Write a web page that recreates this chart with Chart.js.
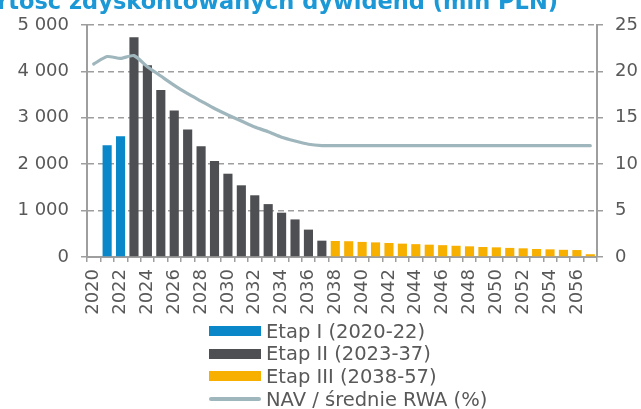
<!DOCTYPE html>
<html lang="pl">
<head>
    <meta charset="UTF-8">
    <title>Wartość zdyskontowanych dywidend</title>
    <script src="https://cdn.jsdelivr.net/npm/chart.js"></script>
    <style>
        body { margin: 0; background: #fff; overflow: hidden; }
        #wrap { position: relative; width: 641px; height: 409px; overflow: hidden; font-family: "DejaVu Sans", Verdana, sans-serif; }
        #title { position: absolute; right: 83px; top: -10px; font-size: 22.5px; line-height: 22px; font-weight: bold; color: #1b98d5; white-space: nowrap; }
        #legend { position: absolute; left: 209px; top: 320px; }
        .item { height: 22.6px; display: flex; align-items: center; font-size: 19.5px; color: #595959; }
        .sw { width: 52px; margin-right: 5px; }
    </style>
</head>
<body>
<div id="wrap">
    <canvas id="dywidendy" width="641" height="409"></canvas>
    <div id="title">Wartość zdyskontowanych dywidend (mln PLN)</div>
    <div id="legend"></div>
</div>

<script>
    const years = [2020, 2021, 2022, 2023, 2024, 2025, 2026, 2027, 2028, 2029,
        2030, 2031, 2032, 2033, 2034, 2035, 2036, 2037, 2038, 2039,
        2040, 2041, 2042, 2043, 2044, 2045, 2046, 2047, 2048, 2049,
        2050, 2051, 2052, 2053, 2054, 2055, 2056, 2057];

    // mln PLN, etapy
    const etap1 = [null, 2410, 2600];
    const etap2 = [4735, 4130, 3600, 3155, 2750, 2385, 2070, 1795, 1545, 1330, 1140, 955, 810, 590, 352];
    const etap3 = [345, 340, 325, 315, 302, 288, 277, 266, 255, 242, 230, 216, 208, 196, 187, 172, 165, 155, 150, 60];

    // NAV / średnie RWA (%)
    const navRwa = [20.8, 21.6, 21.4, 21.7, 20.5, 19.5, 18.5, 17.6, 16.8, 16.0,
        15.3, 14.65, 14.0, 13.5, 12.9, 12.5, 12.15, 12.0, 12.0, 12.0,
        12.0, 12.0, 12.0, 12.0, 12.0, 12.0, 12.0, 12.0, 12.0, 12.0,
        12.0, 12.0, 12.0, 12.0, 12.0, 12.0, 12.0, 12.0];

    const legendNames = ['Etap I (2020-22)', 'Etap II (2023-37)', 'Etap III (2038-57)', 'NAV / średnie RWA (%)'];
    const yTicks = [0, 1000, 2000, 3000, 4000, 5000];

    // rozkład etapów na pełną oś lat
    function place(values, startYear) {
        const out = years.map(() => null);
        values.forEach((v, i) => { out[years.indexOf(startYear) + i] = v; });
        return out;
    }

    const gridCol = '#9e9e9e';
    const textCol = '#595959';

    Chart.defaults.font.family = '"DejaVu Sans", Verdana, sans-serif';
    Chart.defaults.font.size = 18;
    Chart.defaults.color = textCol;

    const barOpts = { type: 'bar', grouped: false, categoryPercentage: 1, barPercentage: 0.68, yAxisID: 'y', order: 1 };

    const chart = new Chart(document.getElementById('dywidendy'), {
        data: {
            labels: years,
            datasets: [
                Object.assign({ label: legendNames[0], data: place(etap1, 2020), backgroundColor: '#0a87c8' }, barOpts),
                Object.assign({ label: legendNames[1], data: place(etap2, 2023), backgroundColor: '#4e4f52' }, barOpts),
                Object.assign({ label: legendNames[2], data: place(etap3, 2038), backgroundColor: '#f8b000' }, barOpts),
                {
                    type: 'line', label: legendNames[3], data: navRwa, yAxisID: 'y2', order: 0,
                    borderColor: '#9fb6bd', borderWidth: 3.2, pointRadius: 0, tension: 0.2,
                    borderCapStyle: 'round', fill: false
                }
            ]
        },
        options: {
            responsive: false,
            animation: false,
            layout: { padding: { top: 25, left: 0, right: 0, bottom: 82 } },
            plugins: { legend: { display: false }, tooltip: { enabled: false } },
            scales: {
                x: {
                    grid: { drawOnChartArea: false, color: gridCol, lineWidth: 1.5, tickLength: 5 },
                    border: { color: gridCol, width: 2 },
                    ticks: {
                        autoSkip: false, minRotation: 90, maxRotation: 90, padding: 7,
                        callback: function (v, i) { return i % 2 === 0 ? this.getLabelForValue(v) : ''; }
                    },
                    afterFit: s => { s.height = 70; }
                },
                y: {
                    min: 0, max: 5000,
                    afterBuildTicks: s => { s.ticks = yTicks.map(v => ({ value: v })); },
                    grid: { color: gridCol, lineWidth: 1.5, tickLength: 6, tickBorderDash: [] },
                    border: { color: gridCol, width: 2, dash: [6, 4] },
                    ticks: {
                        padding: 12,
                        callback: v => String(v).replace(/\B(?=(\d{3})+(?!\d))/g, ' ')
                    },
                    afterFit: s => { s.width = 87; }
                },
                y2: {
                    position: 'right', min: 0, max: 25,
                    ticks: { stepSize: 5, padding: 12 },
                    grid: { drawOnChartArea: false, color: gridCol, lineWidth: 1.5, tickLength: 6 },
                    border: { color: gridCol, width: 2 },
                    afterFit: s => { s.width = 44; }
                }
            }
        }
    });

    // legenda pionowa pod wykresem
    const legend = document.getElementById('legend');
    chart.data.datasets.forEach(ds => {
        const row = document.createElement('div');
        row.className = 'item';
        const sw = document.createElement('span');
        sw.className = 'sw';
        if (ds.type === 'line') {
            sw.style.height = '4px';
            sw.style.borderRadius = '2px';
            sw.style.background = ds.borderColor;
        } else {
            sw.style.height = '10px';
            sw.style.background = ds.backgroundColor;
        }
        row.appendChild(sw);
        row.appendChild(document.createTextNode(ds.label));
        legend.appendChild(row);
    });
</script>
</body>
</html>
